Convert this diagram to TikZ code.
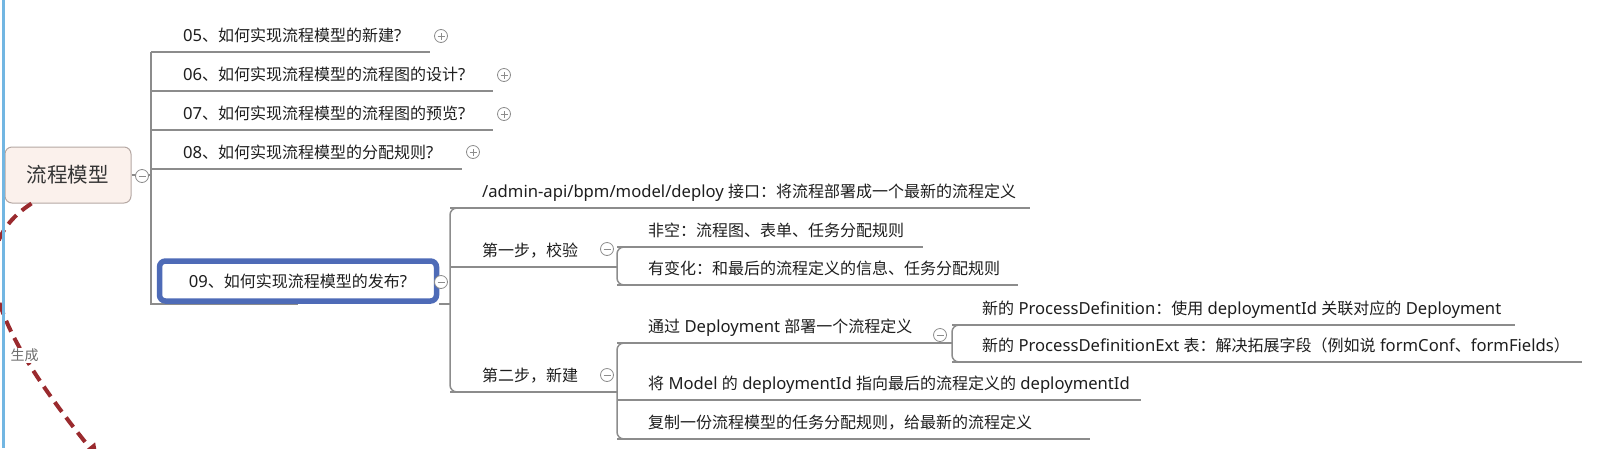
\documentclass[tikz,border=0pt]{standalone}
\usepackage{fontspec}
\setmainfont{Noto Sans CJK SC}
\newfontfamily\enfont[Scale=1.04]{Noto Sans}
\usepackage{tikz}
\usetikzlibrary{arrows.meta,positioning,calc}

\definecolor{branchgray}{RGB}{140,140,140}
\definecolor{textdark}{RGB}{30,30,30}
\definecolor{rootfill}{RGB}{251,241,236}
\definecolor{rootline}{RGB}{181,168,163}
\definecolor{selblue}{RGB}{78,107,183}
\definecolor{genred}{RGB}{154,42,46}
\definecolor{rulerblue}{RGB}{114,182,226}
\definecolor{btngray}{RGB}{140,140,140}
\definecolor{labelgray}{RGB}{110,110,110}

\pgfdeclarelayer{background}
\pgfsetlayers{background,main}

\newcommand\en[1]{{\enfont #1}}
\newcommand\mmtopic[3]{\makebox[#1pt][l]{\hspace*{#2pt}#3}}

\tikzset{
  topic/.style={anchor=south west,inner sep=0pt,text height=13pt,text depth=10pt,font=\fontsize{16}{19}\selectfont,text=textdark},
  branch/.style={draw=branchgray,line width=1.5pt},
  rootbox/.style={draw=rootline,fill=rootfill,line width=1pt,rounded corners=7pt,minimum width=126pt,minimum height=56pt,font=\fontsize{20.5}{24}\selectfont,text=textdark!90},
  selbox/.style={draw=selblue,fill=white,line width=5.5pt,rounded corners=6pt,minimum width=277pt,minimum height=40pt,font=\fontsize{16}{19}\selectfont,text=textdark},
  minusbtn/.style={circle,draw=btngray,fill=white,line width=0.8pt,minimum size=13pt,inner sep=0pt,
    path picture={\draw[btngray,line width=0.9pt] ([xshift=-3.5pt]path picture bounding box.center) -- ([xshift=3.5pt]path picture bounding box.center);}},
  plusbtn/.style={circle,draw=btngray,fill=white,line width=0.8pt,minimum size=13pt,inner sep=0pt,
    path picture={\draw[btngray,line width=0.9pt] ([xshift=-3.5pt]path picture bounding box.center) -- ([xshift=3.5pt]path picture bounding box.center)
      ([yshift=-3.5pt]path picture bounding box.center) -- ([yshift=3.5pt]path picture bounding box.center);}},
  genarrow/.style={draw=genred,line width=4pt,dash pattern=on 12pt off 7pt,-{Triangle[length=14pt,width=14pt]}},
  genlabel/.style={fill=white,inner sep=1pt,text=labelgray,font=\fontsize{14}{16}\selectfont}
}

\begin{document}
\begin{tikzpicture}[x=1pt,y=-1pt]
 \useasboundingbox (0,0) rectangle (1612,448);
 \begin{pgfonlayer}{background}
  \fill[white] (0,0) rectangle (1612,448);
 \end{pgfonlayer}
 \clip (0,0) rectangle (1612,448);

 % root and first level
 \node[rootbox] (nroot) at (68,175) {流程模型};
 \node[topic] (n05) at (151,52) {\mmtopic{279}{32}{\en{05}、如何实现流程模型的新建\en{?}}};
 \node[topic] (n06) at (151,91) {\mmtopic{342}{32}{\en{06}、如何实现流程模型的流程图的设计\en{?}}};
 \node[topic] (n07) at (151,130) {\mmtopic{342}{32}{\en{07}、如何实现流程模型的流程图的预览\en{?}}};
 \node[topic] (n08) at (151,169) {\mmtopic{311}{32}{\en{08}、如何实现流程模型的分配规则\en{?}}};
 \node[selbox] (n09) at (298,281) {\en{09}、如何实现流程模型的发布\en{?}};

 % children of 09
 \node[topic] (napi) at (450,208) {\mmtopic{580}{32}{\en{/admin-api/bpm/model/deploy }接口：将流程部署成一个最新的流程定义}};
 \node[topic] (ncheck) at (450,267) {\mmtopic{167}{32}{第一步，校验}};
 \node[topic] (ncreate) at (450,392) {\mmtopic{167}{32}{第二步，新建}};
 \node[topic] (nnonempty) at (617,247) {\mmtopic{306}{31}{非空：流程图、表单、任务分配规则}};
 \node[topic] (nchanged) at (617,285) {\mmtopic{401}{31}{有变化：和最后的流程定义的信息、任务分配规则}};
 \node[topic] (ndeploy) at (617,343) {\mmtopic{335}{31}{通过\en{ Deployment }部署一个流程定义}};
 \node[topic] (nmodel) at (617,400) {\mmtopic{524}{31}{将\en{ Model }的\en{ deploymentId }指向最后的流程定义的\en{ deploymentId}}};
 \node[topic] (ncopy) at (617,439) {\mmtopic{473}{31}{复制一份流程模型的任务分配规则，给最新的流程定义}};
 \node[topic] (ndef) at (952,325) {\mmtopic{563}{30}{新的\en{ ProcessDefinition}：使用\en{ deploymentId }关联对应的\en{ Deployment}}};
 \node[topic] (ndefext) at (952,362) {\mmtopic{630}{30}{新的\en{ ProcessDefinitionExt }表：解决拓展字段（例如说\en{ formConf}、\en{formFields}）}};

 % fold buttons
 \node[minusbtn] (broot) at (142,176) {};
 \node[plusbtn] (b05) at (441,36) {};
 \node[plusbtn] (b06) at (504,75) {};
 \node[plusbtn] (b07) at (504,114) {};
 \node[plusbtn] (b08) at (473,152) {};
 \node[minusbtn] (b09) at (441,282) {};
 \node[minusbtn] (bcheck) at (607,249) {};
 \node[minusbtn] (bcreate) at (607,375) {};
 \node[minusbtn] (bdeploy) at (940,335) {};

 % connectors
 \begin{pgfonlayer}{background}
  \draw[branch] (nroot.east) -- (nroot.east -| n05.south west);
  \draw[branch] (n05.south west) -- (n05.south west |- n09.south) -- (n09.south);
  \draw[branch] (n09.south east) -- (n09.south east -| napi.south west);
  \foreach \n in {n05,n06,n07,n08,napi,ncheck,ncreate,nnonempty,nchanged,ndeploy,nmodel,ncopy,ndef,ndefext}
   \draw[branch] (\n.south west) -- (\n.south east);
  \draw[branch,rounded corners=7pt] ([xshift=10pt]napi.south west) -- (napi.south west) -- (ncreate.south west) -- ([xshift=10pt]ncreate.south west);
  \draw[branch,rounded corners=7pt] ([xshift=10pt]nnonempty.south west) -- (nnonempty.south west) -- (nchanged.south west) -- ([xshift=10pt]nchanged.south west);
  \draw[branch,rounded corners=7pt] ([xshift=10pt]ndeploy.south west) -- (ndeploy.south west) -- (ncopy.south west) -- ([xshift=10pt]ncopy.south west);
  \draw[branch,rounded corners=7pt] ([xshift=10pt]ndef.south west) -- (ndef.south west) -- (ndefext.south west) -- ([xshift=10pt]ndefext.south west);
 \end{pgfonlayer}

 % relation leaving the picture
 \coordinate (genend) at (98,458);
 \draw[genarrow] ([xshift=27pt]nroot.south west) .. controls (-40,250) and (-5,330) .. (genend) node[pos=0.7,genlabel] {生成};

 \draw[rulerblue,line width=3pt] (3,0) -- (3,448);
\end{tikzpicture}
\end{document}
